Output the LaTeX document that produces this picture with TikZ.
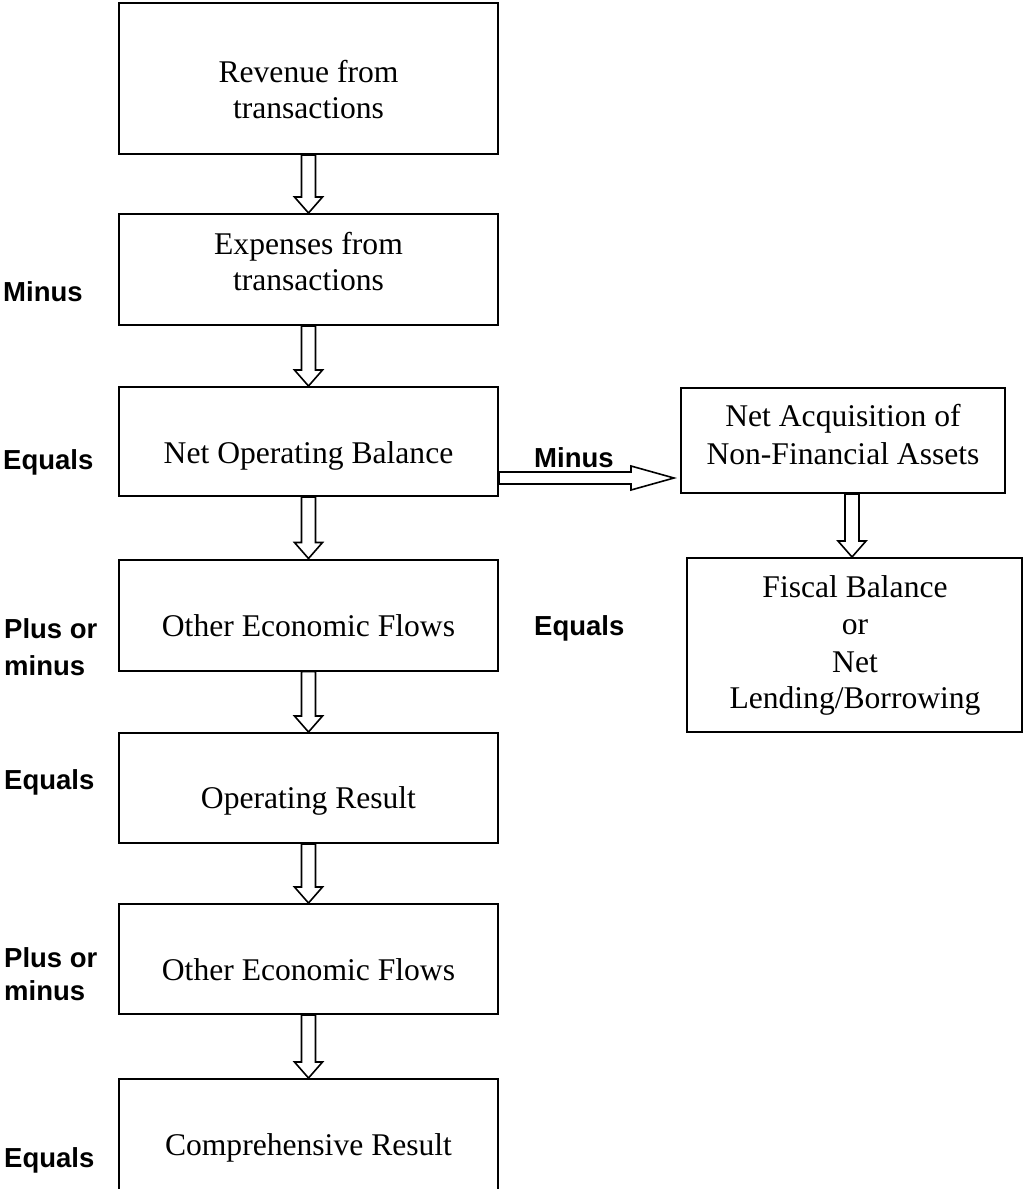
\documentclass[tikz,border=0pt]{standalone}
\usepackage{fontspec}
\setmainfont{Liberation Serif}
\newfontfamily\labelfont{Liberation Sans}
\usetikzlibrary{calc}
\tikzset{
  box/.style={draw, line width=2pt, rectangle, inner sep=0pt, minimum width=379pt},
  boxtext/.style={font=\fontsize{31.6pt}{36pt}\selectfont, anchor=base, inner sep=0pt},
  sidelabel/.style={font=\labelfont\bfseries\fontsize{27.5pt}{33pt}\selectfont, anchor=base west, inner sep=0pt},
  blockarrow/.style={draw, line width=1.6pt, fill=white, line join=miter},
}
% hollow block arrow from the bottom of #1 down to the top of #2, shifted by #3
\newcommand\flowdown[3]{%
  \draw[blockarrow] let \p1=($(#1.south)+(#3,0)$), \p2=(#2.north) in
    (\x1-7pt,\y1) -- (\x1-7pt,\y2+16pt) -- (\x1-14pt,\y2+16pt) -- (\x1,\y2)
    -- (\x1+14pt,\y2+16pt) -- (\x1+7pt,\y2+16pt) -- (\x1+7pt,\y1) -- cycle;}
\begin{document}
\begin{tikzpicture}[x=1pt,y=-1pt]
\useasboundingbox (0,0) rectangle (1024,1189);
\clip (0,0) rectangle (1024,1189);

% main column
\node[box, minimum height=151pt] (b1) at (308.5,78.5) {};
\node[box, minimum height=111pt] (b2) at (308.5,269.5) {};
\node[box, minimum height=109pt] (b3) at (308.5,441.5) {};
\node[box, minimum height=111pt] (b4) at (308.5,615) {};
\node[box, minimum height=110pt] (b5) at (308.5,788) {};
\node[box, minimum height=110pt] (b6) at (308.5,959) {};
\node[box, minimum height=131pt] (b7) at (308.5,1144.5) {};

% side column
\node[box, minimum width=324pt, minimum height=105pt] (na) at (843,440.5) {};
\node[box, minimum width=335pt, minimum height=174pt] (fb) at (854.5,645) {};

% box texts
\node[boxtext] (t1a) at (308.5,82) {Revenue from};
\node[boxtext] (t1b) at (308.5,118) {transactions};
\node[boxtext] (t2a) at (308.5,254) {Expenses from};
\node[boxtext] (t2b) at (308.5,290) {transactions};
\node[boxtext] (t3) at (308.5,463) {Net Operating Balance};
\node[boxtext] (t4) at (308.5,636) {Other Economic Flows};
\node[boxtext] (t5) at (308.5,808) {Operating Result};
\node[boxtext] (t6) at (308.5,980) {Other Economic Flows};
\node[boxtext] (t7) at (308.5,1155) {Comprehensive Result};
\node[boxtext] (tna) at (843,426) {Net Acquisition of};
\node[boxtext] (tnb) at (843,464) {Non-Financial Assets};
\node[boxtext] (tfa) at (855,597) {Fiscal Balance};
\node[boxtext] (tfb) at (855,634) {or};
\node[boxtext] (tfc) at (855,672) {Net};
\node[boxtext] (tfd) at (855,708) {Lending/Borrowing};

% operator labels
\node[sidelabel] (l2) at (3,301) {Minus};
\node[sidelabel] (l3) at (3,469) {Equals};
\node[sidelabel] (l4a) at (4,638) {Plus or};
\node[sidelabel] (l4b) at (4,675) {minus};
\node[sidelabel] (l5) at (4,789) {Equals};
\node[sidelabel] (l6a) at (4,967) {Plus or};
\node[sidelabel] (l6b) at (4,1000) {minus};
\node[sidelabel] (l7) at (4,1167) {Equals};
\node[sidelabel] (lh) at (534,467) {Minus};
\node[sidelabel] (lf) at (534,635) {Equals};

% flow arrows
\flowdown{b1}{b2}{0}
\flowdown{b2}{b3}{0}
\flowdown{b3}{b4}{0}
\flowdown{b4}{b5}{0}
\flowdown{b5}{b6}{0}
\flowdown{b6}{b7}{0}
\flowdown{na}{fb}{9}

% sideways arrow to the acquisition box
\draw[blockarrow] let \p1=($(b3.east)+(0,36.5)$), \p2=($(na.west)+(-6,0)$) in
  (\x1,\y1+6pt) -- (\x2-43pt,\y1+6pt) -- (\x2-43pt,\y1+12pt) -- (\x2,\y1)
  -- (\x2-43pt,\y1-12pt) -- (\x2-43pt,\y1-6pt) -- (\x1,\y1-6pt) -- cycle;
\end{tikzpicture}
\end{document}
